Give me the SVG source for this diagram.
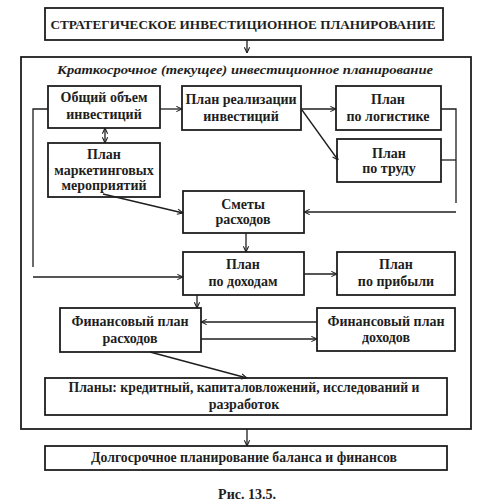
<svg xmlns="http://www.w3.org/2000/svg" width="489" height="503" viewBox="0 0 489 503">
<defs>
<style>
.box{fill:#fff;stroke:#1e1e1e;stroke-width:1.8}
.frame{fill:none;stroke:#1e1e1e;stroke-width:1.8}
.c{fill:none;stroke:#1e1e1e;stroke-width:1.3}
.t{font-family:"Liberation Serif","DejaVu Serif",serif;font-weight:bold;font-size:14px;fill:#1e1e1e;text-anchor:middle}
.it{font-family:"Liberation Serif","DejaVu Serif",serif;font-style:italic;font-weight:bold;font-size:13px;fill:#1e1e1e;text-anchor:middle}
.cap{font-family:"Liberation Serif","DejaVu Serif",serif;font-weight:bold;font-size:13.5px;fill:#1e1e1e;text-anchor:middle}
</style>
<marker id="ah" viewBox="0 0 8 8" refX="7.5" refY="4" markerWidth="7" markerHeight="7" markerUnits="userSpaceOnUse" orient="auto-start-reverse">
<path d="M1,1 L7.5,4 L1,7" fill="none" stroke="#1e1e1e" stroke-width="1.2"/>
</marker>
</defs>
<rect width="489" height="503" fill="#fff"/>

<g id="strategic">
<rect class="box" x="45" y="8" width="398" height="32"/>
<text class="cap" x="243" y="29" textLength="385" lengthAdjust="spacingAndGlyphs">СТРАТЕГИЧЕСКОЕ ИНВЕСТИЦИОННОЕ ПЛАНИРОВАНИЕ</text>
</g>

<g id="short-term">
<rect class="frame" x="21" y="57" width="450" height="372"/>
<text class="it" x="245" y="74" textLength="376" lengthAdjust="spacingAndGlyphs">Краткосрочное (текущее) инвестиционное планирование</text>
</g>

<g id="total">
<rect class="box" x="48" y="86" width="112" height="42"/>
<text class="t" x="104" y="102">Общий объем</text>
<text class="t" x="104" y="119">инвестиций</text>
</g>

<g id="realization">
<rect class="box" x="182" y="86" width="119" height="44"/>
<text class="t" x="241" y="104">План реализации</text>
<text class="t" x="241" y="121">инвестиций</text>
</g>

<g id="logistics">
<rect class="box" x="336" y="86" width="105" height="44"/>
<text class="t" x="388" y="104">План</text>
<text class="t" x="388" y="121">по логистике</text>
</g>

<g id="marketing">
<rect class="box" x="48" y="143" width="112" height="54"/>
<text class="t" x="104" y="159">План</text>
<text class="t" x="104" y="175">маркетинговых</text>
<text class="t" x="104" y="190">мероприятий</text>
</g>

<g id="labor">
<rect class="box" x="337" y="139" width="104" height="43"/>
<text class="t" x="389" y="158">План</text>
<text class="t" x="389" y="173">по труду</text>
</g>

<g id="estimates">
<rect class="box" x="183" y="191" width="121" height="42"/>
<text class="t" x="243" y="209">Сметы</text>
<text class="t" x="243" y="224">расходов</text>
</g>

<g id="income">
<rect class="box" x="183" y="252" width="121" height="43"/>
<text class="t" x="243" y="269">План</text>
<text class="t" x="243" y="286">по доходам</text>
</g>

<g id="profit">
<rect class="box" x="337" y="252" width="118" height="43"/>
<text class="t" x="396" y="269">План</text>
<text class="t" x="396" y="286">по прибыли</text>
</g>

<g id="fin-expenses">
<rect class="box" x="60" y="308" width="141" height="44"/>
<text class="t" x="130" y="326">Финансовый план</text>
<text class="t" x="130" y="343">расходов</text>
</g>

<g id="fin-income">
<rect class="box" x="317" y="308" width="138" height="43"/>
<text class="t" x="386" y="326">Финансовый план</text>
<text class="t" x="386" y="342">доходов</text>
</g>

<g id="plans">
<rect class="box" x="45" y="378" width="402" height="37"/>
<text class="t" x="244" y="392" textLength="351" lengthAdjust="spacingAndGlyphs">Планы: кредитный, капиталовложений, исследований и</text>
<text class="t" x="244" y="409">разработок</text>
</g>

<g id="long-term">
<rect class="box" x="45" y="446" width="402" height="24"/>
<text class="t" x="244" y="462" textLength="306" lengthAdjust="spacingAndGlyphs">Долгосрочное планирование баланса и финансов</text>
</g>

<g id="connectors">
<line class="c" x1="247" y1="40" x2="247" y2="53" marker-end="url(#ah)"/>
<line class="c" x1="160" y1="109" x2="182" y2="109" marker-end="url(#ah)"/>
<line class="c" x1="105" y1="128" x2="105" y2="143" marker-start="url(#ah)" marker-end="url(#ah)"/>
<line class="c" x1="301" y1="109" x2="336" y2="109" marker-end="url(#ah)"/>
<line class="c" x1="302" y1="110" x2="338" y2="160" marker-end="url(#ah)"/>
<polyline class="c" points="48,109 33,109 33,267"/>
<line class="c" x1="33" y1="277" x2="183" y2="277" marker-end="url(#ah)"/>
<polyline class="c" points="441,109 456,109 456,203"/>
<line class="c" x1="441" y1="160" x2="456" y2="160"/>
<line class="c" x1="456" y1="212" x2="304" y2="212" marker-end="url(#ah)"/>
<line class="c" x1="103" y1="194" x2="183" y2="213" marker-end="url(#ah)"/>
<line class="c" x1="246" y1="233" x2="246" y2="252" marker-end="url(#ah)"/>
<line class="c" x1="304" y1="274" x2="337" y2="274" marker-end="url(#ah)"/>
<line class="c" x1="197" y1="295" x2="197" y2="308" marker-end="url(#ah)"/>
<line class="c" x1="317" y1="322" x2="201" y2="322" marker-end="url(#ah)"/>
<line class="c" x1="201" y1="339" x2="317" y2="339" marker-end="url(#ah)"/>
<line class="c" x1="150" y1="352" x2="247" y2="378" marker-end="url(#ah)"/>
<line class="c" x1="247" y1="429" x2="247" y2="446" marker-end="url(#ah)"/>
</g>

<text class="t" x="247" y="499">Рис. 13.5.</text>
</svg>
